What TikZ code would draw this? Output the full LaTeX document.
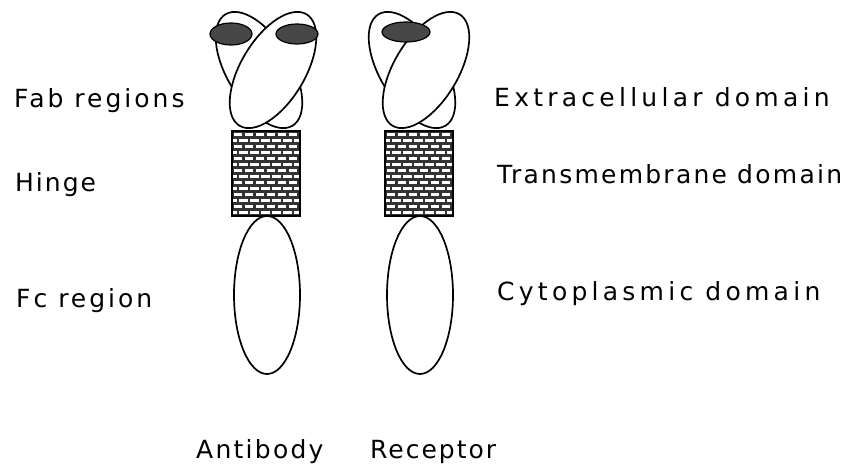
\documentclass[tikz,border=0pt]{standalone}
\usepackage{fontspec}
\setmainfont{DejaVu Sans}
\begin{document}
\begin{tikzpicture}[x=1pt, y=-1pt,
    lobe/.style={draw=black, line width=1.7pt, fill=white},
    knob/.style={draw=black, line width=1.2pt, fill=black!72},
    textlabel/.style={anchor=base west, inner sep=0pt,
        font=\fontsize{25}{30}\selectfont\addfontfeature{LetterSpace=#1}},
    textlabel/.default=8]
    \useasboundingbox (0,0) rectangle (851,470);

    % antibody at dx=0, receptor at dx=153
    \foreach \dx in {0,153} {
        \begin{scope}[shift={(\dx,0)}]
            \draw[lobe, rotate around={31:(259,70)}] (259,70) ellipse (32 and 65);
            \draw[lobe, rotate around={-31:(273,70)}] (273,70) ellipse (32 and 65);
            % hinge / transmembrane block
            \fill[black!80] (232,131) rectangle (300,216);
            \begin{scope}
                \clip (232,131) rectangle (300,216);
                \foreach \r in {0,...,13} {
                    \pgfmathsetmacro\off{mod(\r,2)*5.5}
                    \foreach \c in {0,...,6}
                        \fill[white] ({233.5+\c*11-\off},{133+\r*6}) rectangle ++(8.5,3.5);
                }
            \end{scope}
            \draw[line width=1.4pt] (232,131) rectangle (300,216);
            \draw[lobe] (267,295) ellipse (33 and 79);
        \end{scope}
    }
    \draw[knob] (231,34) ellipse (21 and 11);
    \draw[knob] (297,34) ellipse (21 and 10);
    \draw[knob] (406,32) ellipse (24 and 10);

    \node[textlabel=12] (fab) at (14,108) {Fab regions};
    \node[textlabel] (hinge) at (15,192) {Hinge};
    \node[textlabel=12] (fc) at (16,307) {Fc region};
    \node[textlabel=17] (extra) at (494,107) {Extracellular domain};
    \node[textlabel=9] (trans) at (497,184) {Transmembrane domain};
    \node[textlabel=17] (cyto) at (497,301) {Cytoplasmic domain};
    \node[textlabel=9] (antibody) at (196,458) {Antibody};
    \node[textlabel] (receptor) at (370,458) {Receptor};
\end{tikzpicture}
\end{document}
